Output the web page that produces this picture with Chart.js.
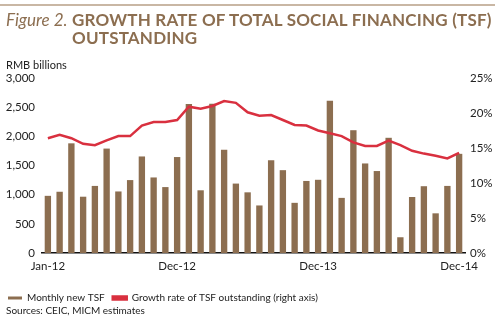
<!DOCTYPE html>
<html>
<head>
<meta charset="utf-8">
<script src="https://cdn.jsdelivr.net/npm/chart.js@4.4.1/dist/chart.umd.min.js"></script>
<style>
  body { margin: 0; background: #fff; font-family: "Lato", "Open Sans", sans-serif; }
  #wrap { position: relative; width: 500px; height: 324px; overflow: hidden; }
  #rule { position: absolute; left: 0; top: 4px; width: 495px; height: 2px; background: #c9b7a4; }
  #title { position: absolute; left: 6px; top: 11px; color: #8c6e50; font-size: 17px; line-height: 18px; }
  #title i { font-weight: normal; font-style: italic; }
  #title b { position: absolute; left: 66px; top: 0; width: 420px; font-weight: bold; letter-spacing: 0.2px; }
  #unit { position: absolute; left: 6px; top: 58px; font-size: 11px; color: #222; }
  #source { position: absolute; left: 6px; top: 304px; font-size: 10px; color: #222; }
  #chartBox { position: absolute; left: 0; top: 0; width: 500px; height: 324px; }
</style>
</head>
<body>
<div id="wrap">
  <div id="chartBox"><canvas id="tsfChart"></canvas></div>
  <div id="rule"></div>
  <div id="title"><i>Figure 2.</i><b>GROWTH RATE OF TOTAL SOCIAL FINANCING (TSF) OUTSTANDING</b></div>
  <div id="unit">RMB billions</div>
  <div id="source">Sources: CEIC, MICM estimates</div>
</div>
<script>
// months Jan-12 .. Dec-14
var months = [
  'Jan-12','Feb-12','Mar-12','Apr-12','May-12','Jun-12','Jul-12','Aug-12','Sep-12','Oct-12','Nov-12','Dec-12',
  'Jan-13','Feb-13','Mar-13','Apr-13','May-13','Jun-13','Jul-13','Aug-13','Sep-13','Oct-13','Nov-13','Dec-13',
  'Jan-14','Feb-14','Mar-14','Apr-14','May-14','Jun-14','Jul-14','Aug-14','Sep-14','Oct-14','Nov-14','Dec-14'
];
var shownLabels = ['Jan-12', 'Dec-12', 'Dec-13', 'Dec-14'];

// monthly new TSF, RMB billions
var newTSF = [
  980, 1050, 1880, 965, 1150, 1790, 1055, 1250, 1655, 1295, 1130, 1645,
  2555, 1075, 2560, 1770, 1190, 1040, 815, 1590, 1420, 860, 1235, 1255,
  2610, 945, 2105, 1535, 1405, 1975, 270, 960, 1145, 680, 1150, 1700
];

// growth rate of TSF outstanding, %
var growthRate = [
  16.4, 16.9, 16.4, 15.6, 15.4, 16.1, 16.7, 16.7, 18.2, 18.7, 18.7, 19.0,
  20.9, 20.6, 21.0, 21.7, 21.45, 20.1, 19.6, 19.7, 19.0, 18.3, 18.2, 17.5,
  17.1, 16.7, 15.8, 15.3, 15.3, 16.05, 15.4, 14.6, 14.2, 13.9, 13.5, 14.3
];

var brown = '#8c6e50';
var red = '#d9303f';
var tickFont = { family: 'Lato, "Open Sans", sans-serif', size: 11.5 };

new Chart(document.getElementById('tsfChart'), {
  type: 'bar',
  data: {
    labels: months,
    datasets: [{
      type: 'bar',
      label: 'Monthly new TSF',
      data: newTSF,
      backgroundColor: brown,
      borderColor: brown,
      yAxisID: 'y',
      categoryPercentage: 1,
      barPercentage: 0.54,
      order: 2
    }, {
      type: 'line',
      label: 'Growth rate of TSF outstanding (right axis)',
      data: growthRate,
      borderColor: red,
      backgroundColor: red,
      borderWidth: 2.5,
      pointRadius: 0,
      tension: 0,
      yAxisID: 'y1',
      order: 1
    }]
  },
  options: {
    responsive: true,
    maintainAspectRatio: false,
    animation: false,
    layout: { padding: { top: 78, left: 0, right: 0, bottom: 11 } },
    plugins: {
      legend: {
        position: 'bottom',
        align: 'start',
        labels: {
          boxWidth: 14,
          boxHeight: 3,
          padding: 8,
          color: '#222',
          font: { family: 'Lato, "Open Sans", sans-serif', size: 10 },
          // bars first, then the line
          sort: function (a, b) { return a.datasetIndex - b.datasetIndex; }
        }
      },
      tooltip: { enabled: false }
    },
    scales: {
      x: {
        offset: true,
        grid: { display: false, drawTicks: false },
        border: { display: true, color: '#111', width: 1.5 },
        ticks: {
          autoSkip: false,
          maxRotation: 0,
          color: '#222',
          font: tickFont,
          padding: 6,
          callback: function (value, index) {
            var lab = months[index];
            return shownLabels.indexOf(lab) >= 0 ? lab : '';
          }
        },
        afterFit: function (scale) { scale.height = 32; }
      },
      y: {
        position: 'left',
        min: 0,
        max: 3000,
        grid: { display: false, drawTicks: false },
        border: { display: false },
        ticks: {
          stepSize: 500,
          color: '#222',
          font: tickFont,
          padding: 7,
          callback: function (v) { return v.toLocaleString('en-US'); }
        },
        afterFit: function (scale) { scale.width = 42; }
      },
      y1: {
        position: 'right',
        min: 0,
        max: 25,
        grid: { display: false, drawTicks: false },
        border: { display: false },
        ticks: {
          stepSize: 5,
          color: '#222',
          font: tickFont,
          padding: 5,
          callback: function (v) { return v + '%'; }
        },
        afterFit: function (scale) { scale.width = 35; }
      }
    }
  }
});
</script>
</body>
</html>
